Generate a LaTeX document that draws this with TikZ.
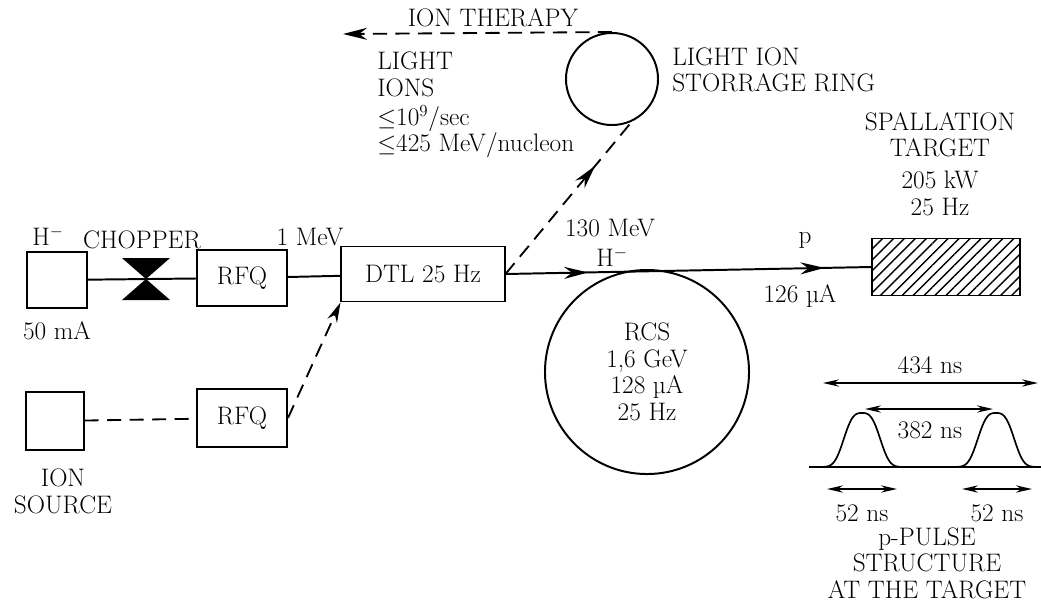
\documentclass[tikz,border=0pt]{standalone}
\usepackage{amsmath,amssymb}
\usepackage{tikz}
\usetikzlibrary{positioning,arrows.meta,patterns.meta,decorations.markings}

\begin{document}
\begin{tikzpicture}[
  x=0.025cm, y=-0.025cm,
  lbl/.style={font=\fontsize{18}{18.8}\selectfont, inner sep=0pt, align=center},
  blockbox/.style={draw=black, line width=1.4pt, inner sep=0pt, font=\fontsize{18}{18.8}\selectfont},
  ringnode/.style={circle, draw=black, line width=1.4pt, inner sep=0pt, align=center, font=\fontsize{18}{18.8}\selectfont},
  beam/.style={line width=1.4pt},
  lightbeam/.style={line width=1.3pt, dash pattern=on 10pt off 6pt},
  dimline/.style={line width=1.1pt, {Stealth[length=4mm,width=1.8mm]}-{Stealth[length=4mm,width=1.8mm]}},
  beamarrows/.style={postaction={decorate}, decoration={markings,
      mark=at position 0.226 with {\arrow{>}}, mark=at position 0.872 with {\arrow{>}}}},
  ringarrow/.style={postaction={decorate}, decoration={markings,
      mark=at position 0.71 with {\arrow{>}}}},
  >={Stealth[length=6mm,width=3mm]}
]
  \useasboundingbox (0,0) rectangle (1041,607);

  % H- injector line
  \node[blockbox, minimum width=1.5cm, minimum height=1.4cm] (hsrc) at (57,280) {};
  \node[lbl] (hlbl) at (48,236) {H$^-$};
  \node[lbl, below=0.3cm of hsrc] (hcur) {50 mA};
  \coordinate (chop) at (146,279);
  \node[lbl] (choplbl) at (142,240) {CHOPPER};
  \node[blockbox, minimum width=2.25cm, minimum height=1.4cm] (rfqa) at (242,278) {RFQ};
  \node[lbl] (mev) at (310,237) {1 MeV};
  \node[blockbox, minimum width=4.075cm, minimum height=1.375cm] (dtl) at (423,274) {DTL 25 Hz};

  % light ion injector
  \node[blockbox, minimum width=1.43cm, minimum height=1.43cm] (isrc) at (55,421) {};
  \node[lbl, below=0.45cm of isrc, xshift=0.2cm] (isrclbl) {ION\\SOURCE};
  \node[blockbox, minimum width=2.25cm, minimum height=1.43cm] (rfqb) at (242,418) {RFQ};

  % light ion storage ring
  \node[ringnode, minimum size=2.3cm] (ring) at (612,79) {};
  \node[lbl, anchor=west, align=left] (ringlbl) at (672,70) {LIGHT ION\\STORRAGE RING};
  \node[lbl, anchor=west, align=left] (ions) at (377,105) {LIGHT\\IONS\\[2pt]$\leq$10$^9$/sec\\$\leq$425 MeV/nucleon};
  \node[lbl] (therapylbl) at (493,18) {ION THERAPY};
  \coordinate (therapy) at (343,34);

  % RCS and target
  \node[ringnode, minimum size=5.1cm] (rcs) at (647,372) {RCS\\1,6 GeV\\128 µA\\25 Hz};
  \node[lbl] (hmev) at (610,228) {130 MeV};
  \node[lbl] (hion) at (612,257) {H$^-$};
  \node[lbl] (plbl) at (805,240) {p};
  \node[lbl] (pcur) at (800,296) {126 µA};
  \node[blockbox, minimum width=3.7cm, minimum height=1.425cm,
        pattern={Lines[angle=45,distance=5.5pt,line width=1pt]}] (target) at (946,267) {};
  \node[lbl] (targetlbl) at (940,164) {SPALLATION\\TARGET\\[4pt]205 kW\\25 Hz};

  \draw[beam] (hsrc) -- (rfqa);
  \fill (chop) ++(-24,-21) -- ++(48,0) -- ++(-48,42) -- ++(48,0) -- cycle;
  \draw[beam] (rfqa) -- (dtl);
  \draw[lightbeam] (isrc) -- (rfqb);
  \draw[lightbeam, ->, >={Stealth[length=5mm,width=2.6mm]}] (rfqb.east) -- (dtl.south west);
  \draw[lightbeam, ringarrow] (dtl.east) -- (ring.-65);
  \draw[lightbeam, ->] (ring.north) -- (therapy);
  \draw[beam, beamarrows] (dtl.east) -- (target.west);

  % pulse structure
  \coordinate (tl) at (823,383);
  \coordinate (tr) at (1038,383);
  \coordinate (il) at (865,409);
  \coordinate (ir) at (993,409);
  \coordinate (pal) at (827,489);
  \coordinate (par) at (897,489);
  \coordinate (pbl) at (962,489);
  \coordinate (pbr) at (1032,489);
  \node[lbl] (tlbl) at (930,365) {434 ns};
  \node[lbl] (ilbl) at (930,430) {382 ns};
  \node[lbl] (palbl) at (862,513) {52 ns};
  \node[lbl] (pblbl) at (997,513) {52 ns};
  \node[lbl] (pulselbl) at (927,563) {p-PULSE\\STRUCTURE\\AT THE TARGET};
  \draw[dimline] (tl) -- (tr);
  \draw[dimline] (il) -- (ir);
  \draw[dimline] (pal) -- (par);
  \draw[dimline] (pbl) -- (pbr);
  \draw[line width=1.2pt] (809,467) -- (1041,467);
  \draw[line width=1.2pt] plot[domain=820:904, samples=60] (\x, {467-54*exp(-(abs(\x-862)/21)^3)});
  \draw[line width=1.2pt] plot[domain=954:1038, samples=60] (\x, {467-54*exp(-(abs(\x-996)/21)^3)});
\end{tikzpicture}
\end{document}
